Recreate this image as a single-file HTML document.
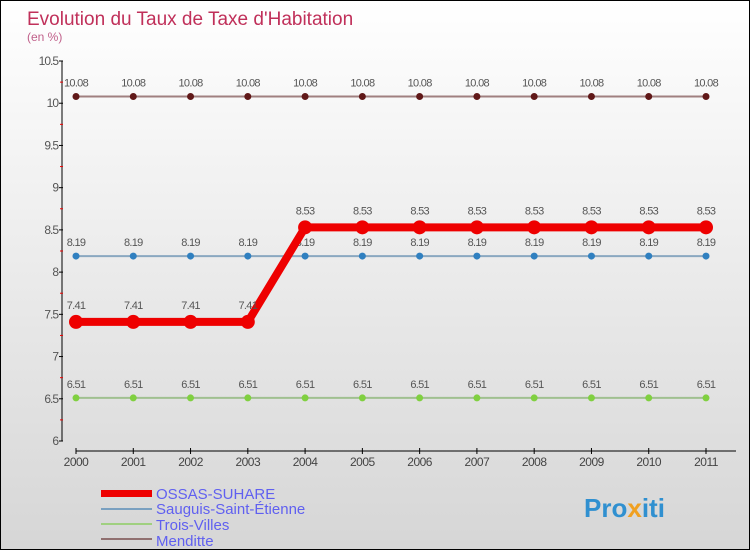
<!DOCTYPE html>
<html><head><meta charset="utf-8"><style>
body{margin:0;}
#c{width:750px;height:550px;position:relative;box-sizing:border-box;border:1px solid #000;background:linear-gradient(#fff,#d6d6d6);font-family:"Liberation Sans",sans-serif;overflow:hidden}
</style></head><body>
<div id="c">
<svg id="s" width="748" height="548" style="position:absolute;left:0;top:0">
<text x="26" y="24" font-size="19" fill="#c0305a">Evolution du Taux de Taxe d'Habitation</text>
<text x="26" y="40" font-size="12" fill="#c0608a">(en %)</text>
<g id="axes"></g><g id="series"></g>
<g>
<rect x="100" y="489" width="51" height="7" fill="#e00"/>
<text x="155" y="498" font-size="15" fill="#6060f0">OSSAS-SUHARE</text>
<rect x="100" y="507" width="51" height="2" fill="#7aa0c0"/>
<text x="155" y="513" font-size="15" fill="#6060f0">Sauguis-Saint-Étienne</text>
<rect x="100" y="522" width="51" height="2" fill="#a0d080"/>
<text x="155" y="529" font-size="15" fill="#6060f0">Trois-Villes</text>
<rect x="100" y="537" width="51" height="2" fill="#907070"/>
<text x="155" y="545" font-size="15" fill="#6060f0">Menditte</text>
</g>
<text x="583" y="516" font-size="26" font-weight="bold" fill="#3090d0">Pro<tspan fill="#f0a020">x</tspan>iti</text>
</svg>
</div>
<script>
const years=[2000,2001,2002,2003,2004,2005,2006,2007,2008,2009,2010,2011];
const yTicks=[6,6.5,7,7.5,8,8.5,9,9.5,10,10.5];
const ossas=[7.41,7.41,7.41,7.41,8.53,8.53,8.53,8.53,8.53,8.53,8.53,8.53];
const sauguis=[8.19,8.19,8.19,8.19,8.19,8.19,8.19,8.19,8.19,8.19,8.19,8.19];
const troisVilles=[6.51,6.51,6.51,6.51,6.51,6.51,6.51,6.51,6.51,6.51,6.51,6.51];
const menditte=[10.08,10.08,10.08,10.08,10.08,10.08,10.08,10.08,10.08,10.08,10.08,10.08];
const NS="http://www.w3.org/2000/svg";
const xs=i=>75+i*(630/(years.length-1));
const ys=v=>440-(v-6)*(380/4.5);
function mk(t,a,p){const e=document.createElementNS(NS,t);for(const k in a)e.setAttribute(k,a[k]);p.appendChild(e);return e;}
const ax=document.getElementById('axes');
let l=mk('line',{x1:61,y1:60,x2:61,y2:440,stroke:'#000'},ax);


yTicks.forEach((v,i)=>{
 mk('line',{x1:58,x2:62,y1:ys(v),y2:ys(v),stroke:'#000'},ax);
 if(i<yTicks.length-1)mk('line',{x1:59,x2:62,y1:ys(v+0.25),y2:ys(v+0.25),stroke:'#e00'},ax);
 const t=mk('text',{x:57,y:ys(v)+4,'text-anchor':'end','font-size':12,fill:'#555','letter-spacing':'-1'},ax);
 t.textContent=v;
 
 
});
l=mk('line',{x1:75,y1:450,x2:735,y2:450,stroke:'#000'},ax);


years.forEach((y,i)=>{
 mk('line',{x1:xs(i),x2:xs(i),y1:447,y2:453,stroke:'#000'},ax);
 const t=mk('text',{x:xs(i),y:465,'text-anchor':'middle','font-size':12,fill:'#444','letter-spacing':'-0.5'},ax);
 t.textContent=y;
 
 
});
const se=document.getElementById('series');
function draw(d,name,lc,lw,pc,r,lab){
 const g=mk('g',{},se);
 
 
 const p=mk('polyline',{points:d.map((v,i)=>xs(i)+','+ys(v)).join(' '),fill:'none',stroke:lc,'stroke-width':lw},g);
 
 
 d.forEach((v,i)=>{
  const c=mk('circle',{cx:xs(i),cy:ys(v),r:r,fill:pc},g);
  
  
  const t=mk('text',{x:xs(i),y:ys(v)-lab,'text-anchor':'middle','font-size':11,fill:'#555','letter-spacing':'-0.7'},g);
  t.textContent=v.toFixed(2);
  
  
 });
}
draw(menditte,'menditte','#a08080',2,'#601818',3.5,10);
draw(troisVilles,'trois-villes','#a0c090',2,'#80d040',3.5,10);
draw(sauguis,'sauguis','#8aa8c0',2,'#3080c0',3.5,10);
draw(ossas,'ossas','#ee0000',8,'#ee0000',7,13);
</script>
</body></html>
